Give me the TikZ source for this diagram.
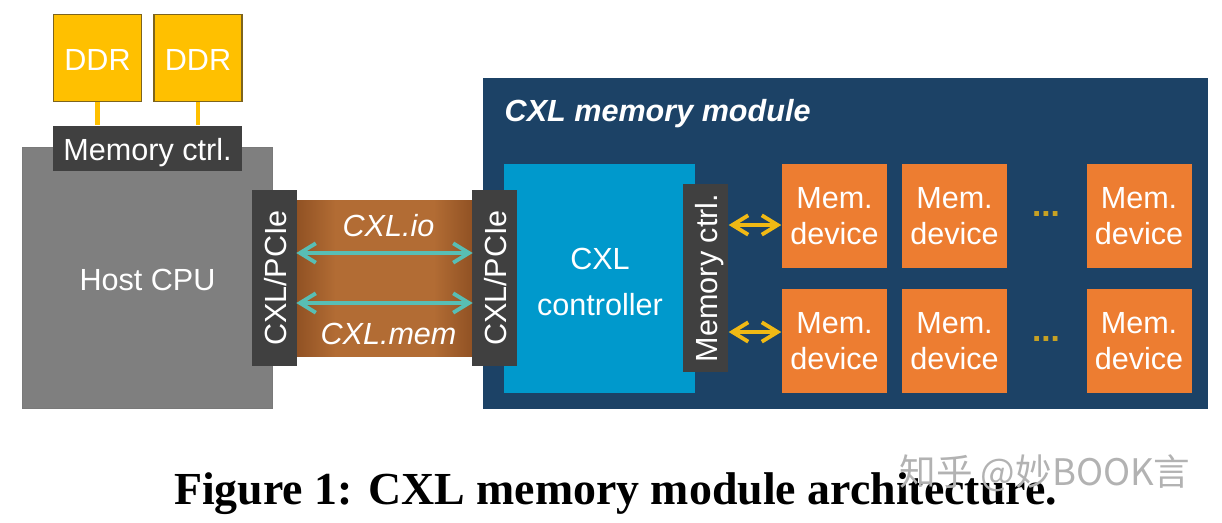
\documentclass[tikz,border=0pt]{standalone}
\usepackage{fontspec}
\setmainfont{Liberation Sans}
\newfontfamily\captionfont{Liberation Serif}
\newfontfamily\markfont{Noto Sans CJK SC}
\usetikzlibrary{arrows.meta, positioning, calc}
\definecolor{ddryellow}{RGB}{255, 192, 0}
\definecolor{ddredge}{RGB}{125, 100, 30}
\definecolor{ctrlgray}{RGB}{64, 64, 64}
\definecolor{hostgray}{RGB}{127, 127, 127}
\definecolor{moduleblue}{RGB}{28, 66, 102}
\definecolor{ctrlblue}{RGB}{0, 153, 204}
\definecolor{devorange}{RGB}{237, 125, 49}
\definecolor{linkdark}{RGB}{145, 82, 36}
\definecolor{linkbrown}{RGB}{178, 108, 52}
\definecolor{arrowteal}{RGB}{88, 190, 180}
\definecolor{arrowyellow}{RGB}{240, 185, 20}
\pgfdeclarehorizontalshading{linkshade}{100bp}{color(0bp)=(linkdark); color(25bp)=(linkdark); color(36bp)=(linkbrown); color(64bp)=(linkbrown); color(75bp)=(linkdark); color(100bp)=(linkdark)}
\tikzset{
  plainbox/.style={inner sep=0pt, align=center, text=white, font=\fontsize{8.7}{10.5}\selectfont},
  capbox/.style={plainbox, text height=7pt, text depth=0pt},
  ddrbox/.style={capbox, draw=ddredge, line width=0.3pt, fill=ddryellow, minimum width=0.88cm, minimum height=0.87cm},
  darkbox/.style={capbox, fill=ctrlgray, minimum height=0.45cm},
  devbox/.style={plainbox, text depth=-1.7pt, fill=devorange, minimum width=1.05cm, minimum height=1.04cm},
  linkarrow/.style={{Straight Barb[length=4.5pt, width=5.5pt]}-{Straight Barb[length=4.5pt, width=5.5pt]}, line width=1.1pt, arrowteal},
  memarrow/.style={{Straight Barb[length=4.5pt, width=5.5pt]}-{Straight Barb[length=4.5pt, width=5.5pt]}, line width=1.1pt, arrowyellow},
  linklabel/.style={inner sep=0pt, text=white, font=\fontsize{8.7}{10}\selectfont\itshape},
}
\begin{document}
\begin{tikzpicture}
  \useasboundingbox (0, 0) rectangle (12.22, 5.22);

  % Host side
  \node[capbox, draw=ctrlgray!70, line width=0.3pt, fill=hostgray, minimum width=2.5cm, minimum height=2.61cm] (host) at (1.475, 2.44) {Host CPU};
  \node[ddrbox] (ddrleft) at (0.975, 4.64) {DDR};
  \node[ddrbox] (ddrright) at (1.98, 4.64) {DDR};
  \node[darkbox, minimum width=1.89cm] (hostctrl) at (1.475, 3.74) {Memory ctrl.};
  \draw[ddryellow, line width=1.2pt] (ddrleft.south) -- (ddrleft.south |- hostctrl.north);
  \draw[ddryellow, line width=1.2pt] (ddrright.south) -- (ddrright.south |- hostctrl.north);

  % Module
  \node[fill=moduleblue, minimum width=7.25cm, minimum height=3.31cm, inner sep=0pt] (module) at (8.455, 2.785) {};
  \node[linklabel, font=\fontsize{8.7}{10}\selectfont\bfseries\itshape, anchor=west] (moduletitle) at (5.04, 4.08) {CXL memory module};
  \node[fill=ctrlblue, minimum width=1.91cm, minimum height=2.29cm, inner sep=0pt] (controller) at (5.995, 2.44) {};
  \node[plainbox, font=\fontsize{8.7}{13}\selectfont] (controllerlabel) at (6.0, 2.40) {CXL\\controller};

  % Link
  \node[shading=linkshade, minimum width=1.75cm, minimum height=1.56cm, inner sep=0pt] (link) at (3.845, 2.44) {};
  \node[darkbox, rotate=90, minimum width=1.76cm] (hostport) at (2.745, 2.44) {CXL/PCIe};
  \node[darkbox, rotate=90, minimum width=1.76cm] (moduleport) at (4.945, 2.44) {CXL/PCIe};
  \node[linklabel] (cxlio) at (3.885, 2.96) {CXL.io};
  \node[linklabel] (cxlmem) at (3.885, 1.88) {CXL.mem};
  \draw[linkarrow] ($(link.west)+(0, 0.25)$) -- ($(link.east)+(0, 0.25)$);
  \draw[linkarrow] ($(link.west)+(0, -0.25)$) -- ($(link.east)+(0, -0.25)$);

  % Memory devices
  \node[darkbox, rotate=90, minimum width=1.88cm] (modulectrl) at (7.055, 2.44) {Memory ctrl.};
  \node[devbox] (devaa) at (8.345, 3.06) {Mem.\\device};
  \node[devbox] (devab) at (9.545, 3.06) {Mem.\\device};
  \node[devbox] (devac) at (11.39, 3.06) {Mem.\\device};
  \node[devbox] (devba) at (8.345, 1.81) {Mem.\\device};
  \node[devbox] (devbb) at (9.545, 1.81) {Mem.\\device};
  \node[devbox] (devbc) at (11.39, 1.81) {Mem.\\device};
  \node[inner sep=0pt, text=arrowyellow!80!moduleblue, font=\fontsize{9.5}{10}\selectfont\bfseries] (dotsa) at (10.46, 3.08) {...};
  \node[inner sep=0pt, text=arrowyellow!80!moduleblue, font=\fontsize{9.5}{10}\selectfont\bfseries] (dotsb) at (10.46, 1.83) {...};
  \draw[memarrow] (modulectrl.south |- 0, 2.97) -- (devaa.west |- 0, 2.97);
  \draw[memarrow] (modulectrl.south |- 0, 1.90) -- (devba.west |- 0, 1.90);

  % Caption
  \node[inner sep=0pt, font=\fontsize{13.05}{15}\selectfont\captionfont\bfseries] (caption) at (6.155, 0.28) {Figure 1: CXL memory module architecture.};
  \node[inner sep=0pt, text=black!30, font=\fontsize{10.4}{12}\selectfont\markfont] (watermark) at (10.45, 0.49) {知乎 @妙BOOK言};
\end{tikzpicture}
\end{document}
